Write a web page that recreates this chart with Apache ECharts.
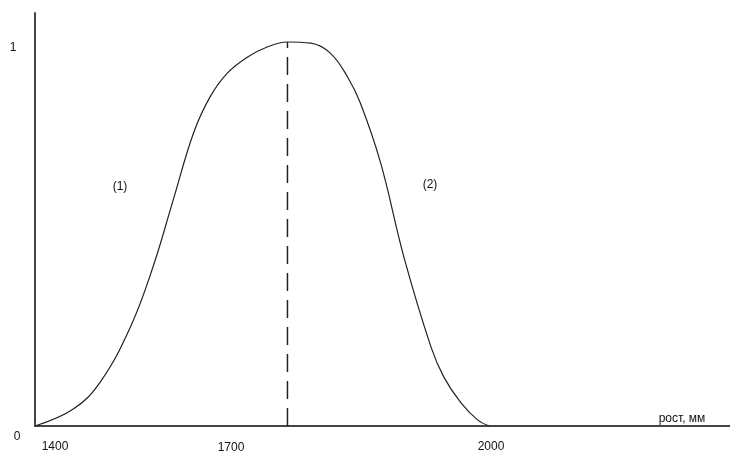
<!DOCTYPE html>
<html>
<head>
<meta charset="utf-8">
<script src="https://cdn.jsdelivr.net/npm/echarts@6/dist/echarts.min.js"></script>
<style>
  html, body { margin: 0; padding: 0; background: #fff; }
  #chart { width: 730px; height: 460px; }
</style>
</head>
<body>
<div id="chart"></div>
<script>
// рост (мм) и относительная величина
const heights = [1400, 1451, 1487, 1527, 1557, 1584, 1611, 1633, 1656, 1683, 1709, 1736, 1767,
  1793, 1816, 1833, 1860, 1891, 1927, 1944, 1967, 1989, 2005]
const values = [0, 0.044, 0.115, 0.258, 0.414, 0.589, 0.763, 0.857, 0.919, 0.961, 0.987, 1.0, 0.997,
  0.971, 0.909, 0.841, 0.685, 0.44, 0.206, 0.128, 0.06, 0.016, 0]
const peakHeight = 1736
const xTickLabels = ['1400', '1700', '2000']
const yTickLabels = ['0', '1']
const axisName = 'рост, мм'
const regionLabels = ['(1)', '(2)']

const font = '"Liberation Sans", Arial, sans-serif'
const txt = (text, x, y) => ({
  type: 'text', x, y,
  style: { text, font: '12px ' + font, fill: '#111', align: 'center', verticalAlign: 'middle' }
})

const chart = echarts.init(document.getElementById('chart'))
chart.setOption({
  animation: false,
  grid: { left: 35, right: 0, top: 13, bottom: 34 },
  xAxis: {
    type: 'value', min: 1400, max: 2325,
    axisLine: { show: true, lineStyle: { color: '#444', width: 2 } },
    axisTick: { show: false }, axisLabel: { show: false }, splitLine: { show: false }
  },
  yAxis: {
    type: 'value', min: 0, max: 1.0755,
    axisLine: { show: true, lineStyle: { color: '#444', width: 2 } },
    axisTick: { show: false }, axisLabel: { show: false }, splitLine: { show: false }
  },
  series: [{
    type: 'line',
    data: heights.map((h, i) => [h, values[i]]),
    smooth: 0.4,
    showSymbol: false,
    lineStyle: { color: '#222', width: 1.2 }
  }, {
    type: 'line',
    data: [[peakHeight, 0], [peakHeight, 1.0]],
    showSymbol: false,
    lineStyle: { color: '#222', width: 1.5, type: [18, 9] }
  }],
  graphic: [
    txt(yTickLabels[1], 13, 48),
    txt(yTickLabels[0], 17, 437),
    txt(xTickLabels[0], 55, 447),
    txt(xTickLabels[1], 231, 448),
    txt(xTickLabels[2], 491, 447),
    txt(axisName, 682, 419),
    txt(regionLabels[0], 120, 187),
    txt(regionLabels[1], 430, 185)
  ]
})
</script>
</body>
</html>
